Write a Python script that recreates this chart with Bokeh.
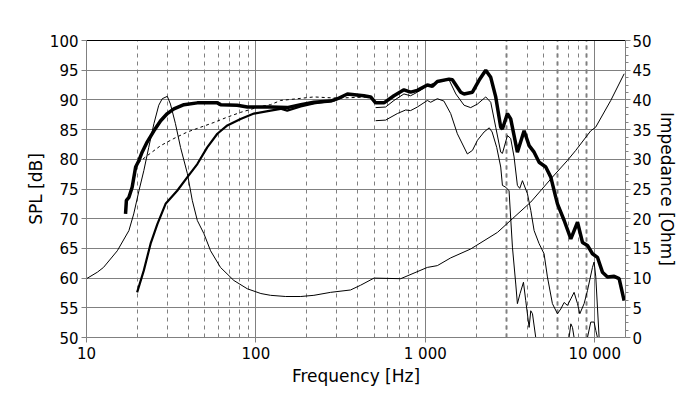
from bokeh.plotting import figure
from bokeh.models import Range1d, LinearAxis, FixedTicker, Grid
from bokeh.embed import file_html
from bokeh.resources import INLINE

# ---------------- data ----------------
x_major = [10, 100, 1000, 10000]
x_major_labels = ["10", "100", "1 000", "10 000"]
x_minor = [20, 30, 40, 50, 60, 70, 80, 90,
           200, 300, 400, 500, 600, 700, 800, 900,
           2000, 3000, 4000, 5000, 6000, 7000, 8000, 9000]
x_bold_minor = [3000, 6000, 9000]
spl_ticks = [50, 55, 60, 65, 70, 75, 80, 85, 90, 95, 100]
imp_ticks = [0, 5, 10, 15, 20, 25, 30, 35, 40, 45, 50]

# total SPL (thick)
spl_f = [17.0, 17.2, 17.8, 18.6, 19.5, 20.4, 21.3, 22.8, 25.0, 27.4, 30.0, 32.8, 37.6, 45.1,
         59.2, 61.9, 77.6, 89, 122, 153, 184, 220, 276, 303, 347, 434, 476, 509, 570, 653,
         748, 819, 898, 1028, 1101, 1178, 1380, 1445, 1618, 1694, 1898, 2076, 2274, 2434,
         2605, 2788, 2853, 3054, 3193, 3497, 3830, 4101, 4389, 4697, 5142, 5506, 5893, 6028,
         6603, 7230, 7917, 8473, 9065, 9700, 10380, 11110, 11900, 13030, 13940, 14920]
spl_db = [70.8, 73.1, 73.6, 75.3, 78.7, 79.8, 81.2, 82.9, 84.8, 86.5, 87.7, 88.5, 89.2, 89.5,
          89.5, 89.2, 89.1, 88.8, 88.8, 88.7, 89.2, 89.6, 89.8, 90.2, 91.0, 90.7, 90.5, 89.5,
          89.5, 90.7, 91.7, 91.3, 91.6, 92.5, 92.3, 93.1, 93.5, 93.4, 91.3, 91.0, 91.3, 93.3,
          95.0, 93.8, 90.5, 85.4, 85.1, 87.7, 86.8, 81.2, 84.8, 82.3, 81.2, 79.5, 78.7, 77.0,
          73.6, 72.5, 69.7, 66.6, 69.4, 66.0, 65.5, 64.1, 63.5, 61.0, 60.2, 60.3, 59.9, 56.2]

# low-frequency SPL (medium)
low_f = [19.9, 21.8, 23.9, 26.2, 29.3, 34.3, 39.4, 45.1, 51.6, 59.2, 67.8, 81.2, 97.3, 122,
         140, 153, 184, 220, 289, 330]
low_db = [57.6, 61.3, 65.8, 69.1, 72.5, 74.7, 77.0, 79.2, 82.0, 84.3, 85.7, 86.8, 87.7, 88.2,
          88.5, 88.2, 88.9, 89.4, 89.9, 90.6]

# dashed SPL
dash_f = [19.5, 20.4, 22.8, 27.4, 32.8, 39.4, 47.2, 56.5, 67.8, 81.2, 106.6, 122, 140, 220,
          300, 476]
dash_db = [78.5, 79.5, 80.6, 82.3, 83.5, 84.6, 85.4, 86.2, 87.1, 87.9, 88.9, 89.2, 89.9,
           90.5, 90.3, 90.5]

# high-frequency SPL, upper thin curve
hi1_f = [509, 583, 653, 748, 819, 898, 1028, 1178, 1380, 1515, 1694, 1853, 2032, 2274, 2434,
         2605, 2788, 2853, 3054, 3193, 3342, 3497, 3610, 3745, 4009, 4194, 4389, 4697, 5024,
         5260, 5628, 6028, 6304, 6603, 6902, 7230, 7557, 7917, 8170, 8659, 9065, 9700, 9918,
         10150, 10380, 10620, 10900]
hi1_db = [88.7, 88.8, 89.9, 91.0, 90.7, 91.3, 92.4, 93.0, 93.4, 91.0, 89.1, 88.7, 89.3, 90.5,
          89.6, 85.4, 81.2, 81.0, 84.0, 83.5, 80.4, 75.6, 75.1, 76.4, 74.2, 71.4, 68.0, 65.8,
          64.1, 60.2, 55.7, 54.0, 54.8, 55.9, 55.4, 56.5, 57.6, 55.7, 54.0, 55.7, 57.9, 61.8,
          62.7, 60.2, 55.1, 50.0, 45.0]

# high-frequency SPL, lower thin curve
hi2_f = [509, 583, 684, 766, 819, 898, 1028, 1076, 1178, 1288, 1412, 1546, 1771, 1898, 2032,
         2224, 2385, 2480, 2640, 2788, 2853, 2985, 3122, 3269, 3420, 3497, 3626, 3797, 3917,
         4101, 4194, 4292, 4487, 4700, 6800, 7058, 7230, 7393, 7557, 7800, 8800, 9065, 9480,
         9918, 10150, 10380, 10700]
hi2_db = [86.5, 86.6, 87.7, 88.3, 88.2, 88.8, 89.9, 89.6, 90.2, 89.8, 87.7, 84.3, 80.9, 81.5,
          83.2, 84.6, 85.3, 84.6, 82.0, 78.7, 75.6, 75.3, 74.7, 65.2, 59.0, 55.7, 57.4, 59.3,
          56.2, 51.7, 54.5, 54.0, 50.0, 45.0, 45.0, 50.0, 52.3, 51.7, 50.0, 45.0, 45.0, 50.0,
          52.6, 52.6, 51.2, 50.0, 45.0]

# impedance (right axis)
imp_f = [10, 11.6, 12.6, 15.2, 17.8, 19.0, 20.4, 21.8, 23.3, 25.0, 26.7, 28.0, 30.0, 31.3,
         33.5, 35.9, 39.4, 42.1, 45.1, 49.3, 54.0, 61.8, 74.1, 89, 107, 122, 150, 184, 220,
         276, 362, 415, 498, 716, 1028, 1178, 1412, 1853, 2668, 3270, 4194, 5630, 6900, 7730,
         9480, 10130, 12440, 14930]
imp_ohm = [9.9, 11.0, 11.8, 14.6, 18.0, 20.8, 24.7, 28.1, 32.0, 36.0, 39.1, 40.2, 40.6, 39.3,
           36.0, 32.0, 27.6, 23.1, 19.7, 17.5, 14.6, 11.8, 9.6, 8.2, 7.4, 7.1, 6.9, 6.9, 7.1,
           7.6, 8.0, 8.8, 10.0, 9.9, 11.8, 12.1, 13.4, 14.9, 17.7, 20.0, 22.8, 27.0, 29.8,
           31.5, 34.8, 35.4, 39.9, 44.4]

# ---------------- figure ----------------
GRID = "#808080"
FONT = "DejaVu Sans"

p = figure(width=700, height=399, x_axis_type="log",
           x_range=Range1d(10, 15200), y_range=Range1d(50, 100),
           output_backend="svg", toolbar_location=None,
           min_border_left=86, min_border_right=75, min_border_top=40, min_border_bottom=62)
p.extra_y_ranges = {"imp": Range1d(0, 50)}
p.outline_line_color = None
p.background_fill_color = "white"
p.border_fill_color = "white"

# x axis
xa = p.xaxis[0]
xa.ticker = FixedTicker(ticks=x_major, minor_ticks=x_minor)
xa.major_label_overrides = {v: s for v, s in zip(x_major, x_major_labels)}
xa.axis_label = "Frequency [Hz]"

# left axis
ya = p.yaxis[0]
ya.ticker = FixedTicker(ticks=spl_ticks)
ya.axis_label = "SPL [dB]"

# right axis
imp_minor = [t + d for t in imp_ticks[:-1] for d in (1.25, 2.5, 3.75)]
ra = LinearAxis(y_range_name="imp", ticker=FixedTicker(ticks=imp_ticks, minor_ticks=imp_minor),
                axis_label="Impedance [Ohm]")
p.add_layout(ra, "right")

# top border line
ta = LinearAxis(major_tick_line_color=None, minor_tick_line_color=None,
                major_label_text_font_size="0px", axis_line_color="#000000",
                ticker=FixedTicker(ticks=[]))
p.add_layout(ta, "above")

for ax in (xa, ya, ra):
    ax.axis_line_color = GRID
    ax.major_tick_line_color = GRID
    ax.minor_tick_line_color = GRID if ax is ra else None
    ax.major_tick_in = 0
    ax.major_tick_out = 5
    ax.minor_tick_in = 0
    ax.minor_tick_out = 3
    ax.major_label_text_font = FONT
    ax.major_label_text_font_size = "15px"
    ax.major_label_text_color = "#000000"
    ax.axis_label_text_font = FONT
    ax.axis_label_text_font_size = "17px"
    ax.axis_label_text_font_style = "normal"
    ax.axis_label_text_color = "#000000"

xa.major_label_standoff = 2
xa.axis_label_standoff = 0
ya.major_label_standoff = 3
ya.axis_label_standoff = 1
ra.major_label_standoff = 2
ra.axis_label_standoff = 2

# grids
p.xgrid.grid_line_color = GRID
p.xgrid.grid_line_width = 1
p.xgrid.minor_grid_line_color = GRID
p.xgrid.minor_grid_line_dash = "4 4"
p.ygrid.grid_line_color = GRID
p.ygrid.grid_line_width = 1
p.add_layout(Grid(dimension=0, ticker=FixedTicker(ticks=x_bold_minor),
                  grid_line_color=GRID, grid_line_width=2, grid_line_dash="4 4"))

# curves
p.line(imp_f, imp_ohm, y_range_name="imp", line_color="black", line_width=1)
p.line(dash_f, dash_db, line_color="black", line_width=1, line_dash="3 3")
p.line(hi2_f, hi2_db, line_color="black", line_width=1)
p.line(hi1_f, hi1_db, line_color="black", line_width=1)
p.line(low_f, low_db, line_color="black", line_width=2.2)
p.line(spl_f, spl_db, line_color="black", line_width=3.5)

open("out.html", "w").write(file_html(p, INLINE))
